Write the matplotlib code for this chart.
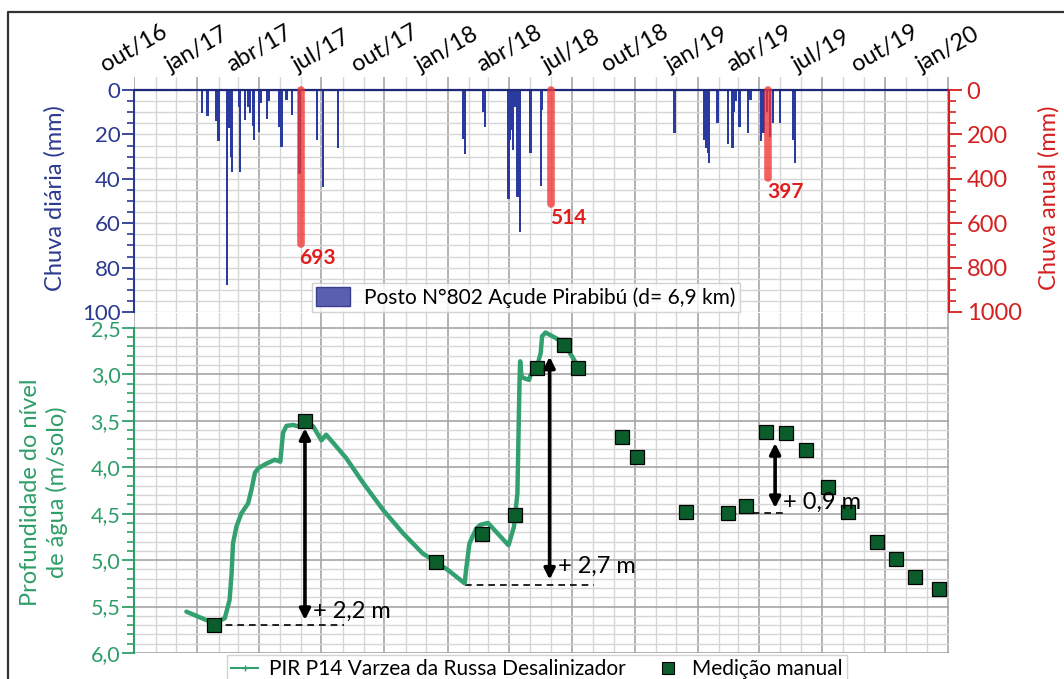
import matplotlib
matplotlib.use("Agg")
import matplotlib.pyplot as plt
import matplotlib.dates as mdates
from matplotlib.ticker import FixedLocator, FuncFormatter
from matplotlib.lines import Line2D
from matplotlib.patches import Patch
import numpy as np
import pandas as pd

plt.rcParams['font.family'] = ['Lato', 'DejaVu Sans']

# ---------------- data ----------------
rain_dates = ["2017-01-08", "2017-01-16", "2017-01-28", "2017-02-01", "2017-02-13", "2017-02-16",
              "2017-02-19", "2017-02-21", "2017-03-03", "2017-03-04", "2017-03-12", "2017-03-16",
              "2017-03-19", "2017-03-23", "2017-03-25", "2017-04-01", "2017-04-03", "2017-04-13",
              "2017-04-16", "2017-04-30", "2017-05-04", "2017-05-11", "2017-05-19", "2017-05-30",
              "2017-06-25", "2017-07-03", "2017-07-25",
              "2018-01-24", "2018-01-27", "2018-02-22", "2018-02-25", "2018-03-31", "2018-04-02",
              "2018-04-04", "2018-04-07", "2018-04-09", "2018-04-13", "2018-04-15", "2018-04-17",
              "2018-05-02", "2018-05-03", "2018-05-17", "2018-05-19",
              "2018-11-28", "2019-01-11", "2019-01-14", "2019-01-16", "2019-01-18", "2019-01-30",
              "2019-02-14", "2019-02-21", "2019-02-23", "2019-02-26", "2019-03-03", "2019-03-15",
              "2019-03-19", "2019-04-03", "2019-04-07", "2019-04-12", "2019-04-17", "2019-04-21",
              "2019-05-01", "2019-05-20", "2019-05-23"]
rain_mm = [10.5, 11.7, 14, 23, 88, 17, 30, 37, 7.5, 37, 13.5, 7.5,
           10.5, 16, 22.5, 19, 6, 13, 5, 16.5, 25.5, 4.5, 11, 38,
           22.5, 43.5, 26,
           22, 29, 10, 16.5, 49, 22.5,
           18, 27, 7.5, 48, 13.5, 64,
           28.5, 9, 43, 9,
           19.5, 22.5, 26, 28.5, 33, 14.7,
           24.3, 26, 10, 5, 16.5, 19.5,
           4.5, 23, 19.5, 10, 21, 15,
           15, 22.5, 33]

annual_dates = ["2017-06-01", "2018-06-01", "2019-04-14"]
annual_mm = [693, 514, 397]

level_dates = ["2016-12-16", "2017-01-14", "2017-01-26", "2017-02-10", "2017-02-17", "2017-02-20",
               "2017-02-22", "2017-02-27", "2017-03-06", "2017-03-16", "2017-03-21", "2017-03-26",
               "2017-03-31", "2017-04-12", "2017-04-24", "2017-05-02", "2017-05-06", "2017-05-11",
               "2017-05-21", "2017-05-28", "2017-06-07", "2017-06-19", "2017-07-01", "2017-07-08",
               "2017-08-06", "2017-08-31", "2017-09-29", "2017-10-28", "2017-11-26", "2017-12-15",
               "2018-01-04", "2018-01-26", "2018-01-28", "2018-02-02", "2018-02-12", "2018-02-18",
               "2018-03-01", "2018-03-31", "2018-04-08", "2018-04-13", "2018-04-15", "2018-04-16",
               "2018-04-17", "2018-04-19", "2018-04-22", "2018-04-30", "2018-05-02", "2018-05-11",
               "2018-05-17", "2018-05-19", "2018-05-24", "2018-06-03", "2018-06-13", "2018-06-20",
               "2018-07-02", "2018-07-09"]
level_m = [5.555, 5.645, 5.68, 5.626, 5.43, 5.14,
           4.82, 4.64, 4.50, 4.39, 4.24, 4.06,
           4.01, 3.96, 3.92, 3.94, 3.63, 3.555,
           3.545, 3.56, 3.52, 3.56, 3.71, 3.65,
           3.90, 4.17, 4.46, 4.71, 4.93, 5.016,
           5.12, 5.25, 5.11, 4.82, 4.66, 4.62,
           4.60, 4.84, 4.64, 4.28, 3.49, 3.10,
           2.86, 3.02, 3.04, 3.06, 3.01, 2.93,
           2.77, 2.59, 2.55, 2.59, 2.63, 2.67,
           2.81, 2.90]

manual_dates = ["2017-01-26", "2017-06-07", "2017-12-15", "2018-02-20", "2018-04-10", "2018-05-11",
                "2018-06-20", "2018-07-11", "2018-09-13", "2018-10-04", "2018-12-15", "2019-02-14",
                "2019-03-13", "2019-04-11", "2019-05-10", "2019-06-08", "2019-07-10", "2019-08-09",
                "2019-09-19", "2019-10-17", "2019-11-14", "2019-12-19"]
manual_m = [5.70, 3.50, 5.02, 4.72, 4.51, 2.93,
            2.68, 2.93, 3.67, 3.89, 4.48, 4.49,
            4.42, 3.62, 3.63, 3.82, 4.21, 4.48,
            4.81, 4.99, 5.18, 5.31]

gain_labels = ["+ 2,2 m", "+ 2,7 m", "+ 0,9 m"]
gain_dates = ["2017-06-07", "2018-05-30", "2019-04-24"]
gain_top = [3.58, 2.81, 3.74]
gain_bottom = [5.645, 5.21, 4.44]
gain_label_y = [5.555, 5.07, 4.38]
base_start = ["2017-01-26", "2018-01-26", "2019-03-05"]
base_end = ["2017-08-03", "2018-08-03", "2019-05-10"]
base_level = [5.70, 5.27, 4.49]

month_pt = {1: "jan", 4: "abr", 7: "jul", 10: "out"}

# ---------------- styles ----------------
BLUE = "#2b3990"
BAR_BLUE = "#2a3a9e"
RED = "#d42020"
GREEN = "#2e9e68"
LINE_GREEN = "#33a070"
DARK_GREEN = "#0b5d2c"
MAJ_GRID = "#a6a6a6"
MIN_GRID = "#d6d6d6"

W, H = 1064, 679
fig = plt.figure(figsize=(W / 100, H / 100), dpi=100)

def fx(px):
    return px / W

def fy(py):
    return 1 - py / H

left_px, right_px = 134.3, 948.5
ax_top = fig.add_axes([fx(left_px), fy(312), fx(right_px - left_px), (312 - 77) / H])
ax_bot = fig.add_axes([fx(left_px), fy(653), fx(right_px - left_px), (653 - 313) / H], sharex=ax_top)
ax_top.set_zorder(2)
ax_top.patch.set_alpha(0)

xmin = pd.Timestamp("2016-10-01")
xmax = pd.Timestamp("2020-01-01")
rd = pd.to_datetime(rain_dates)

# ---- top panel
ax_top.bar(rd, rain_mm, width=3.4, color=BAR_BLUE, zorder=3, linewidth=0)
ax_top.axhline(0, color="#1e2a78", lw=1.6, zorder=4)
ax_top.set_ylim(100, -5.9)
ax_top.set_xlim(xmin, xmax + pd.Timedelta(days=1))

ax_top.xaxis.set_major_locator(mdates.MonthLocator(bymonth=[1, 4, 7, 10]))
ax_top.xaxis.set_minor_locator(mdates.MonthLocator())
ax_top.xaxis.set_major_formatter(FuncFormatter(
    lambda v, p: "%s/%s" % (month_pt[mdates.num2date(v).month], mdates.num2date(v).strftime("%y"))))
ax_top.xaxis.tick_top()
ax_top.tick_params(axis="x", which="both", length=0, pad=1, labelsize=17, labelcolor="black")
for lab in ax_top.get_xticklabels():
    lab.set_rotation(30)
    lab.set_ha("center")
    lab.set_va("bottom")

ax_top.yaxis.set_major_locator(FixedLocator(np.arange(0, 101, 20)))
ax_top.yaxis.set_minor_locator(FixedLocator(np.arange(0, 101, 5)))
ax_top.tick_params(axis="y", which="major", length=9, width=1.3, color=BLUE, labelcolor=BLUE,
                   labelsize=16, pad=1)
ax_top.tick_params(axis="y", which="minor", length=5, width=1.2, color=BLUE)
for s in ["top", "bottom", "right"]:
    ax_top.spines[s].set_visible(False)
ax_top.spines["left"].set_color(BLUE)
ax_top.spines["left"].set_linewidth(1.5)
ax_top.spines["left"].set_bounds(0, 100)
ax_top.grid(axis="x", which="major", color=MAJ_GRID, lw=1.2, zorder=0)
ax_top.grid(axis="x", which="minor", color=MIN_GRID, lw=1.0, zorder=0)
ax_top.grid(axis="y", which="both", color=MIN_GRID, lw=1.0, zorder=0)
ax_top.set_axisbelow(True)

ax_r = ax_top.twinx()
ax_r.set_ylim(1000, -59)
ad = pd.to_datetime(annual_dates)
ax_r.vlines(ad, 0, annual_mm, colors="#f03535", lw=5.5, alpha=0.78, capstyle="round", zorder=5)
for d, v in zip(ad, annual_mm):
    ax_r.annotate(str(v), xy=(d, v), xytext=(-1, -3), textcoords="offset points",
                  ha="left", va="top", color="#e01e1e", fontsize=15, fontweight="bold")
ax_r.yaxis.set_major_locator(FixedLocator(np.arange(0, 1001, 200)))
ax_r.yaxis.set_minor_locator(FixedLocator(np.arange(0, 1001, 50)))
ax_r.tick_params(axis="y", which="major", length=9, width=1.3, color=RED, labelcolor=RED,
                 labelsize=17, pad=4)
ax_r.tick_params(axis="y", which="minor", length=5, width=1.2, color=RED)
for s in ["top", "bottom", "left"]:
    ax_r.spines[s].set_visible(False)
ax_r.spines["right"].set_color(RED)
ax_r.spines["right"].set_linewidth(1.5)
ax_r.spines["right"].set_bounds(0, 1000)
ax_r.tick_params(axis="x", which="both", length=0, labeltop=False, labelbottom=False)

# ---- bottom panel
ld = pd.to_datetime(level_dates)
md = pd.to_datetime(manual_dates)
ax_bot.plot(ld, level_m, color=LINE_GREEN, lw=3.2, zorder=3, solid_joinstyle="round",
            solid_capstyle="round")
ax_bot.plot(md, manual_m, ls="none", marker="s", markersize=10, markerfacecolor=DARK_GREEN,
            markeredgecolor="black", markeredgewidth=0.9, zorder=5)
ax_bot.set_ylim(6.0, 2.34)
ax_bot.yaxis.set_major_locator(FixedLocator(np.arange(2.5, 6.01, 0.5)))
ax_bot.yaxis.set_minor_locator(FixedLocator(np.round(np.arange(2.5, 6.01, 0.1), 2)))
ax_bot.yaxis.set_major_formatter(FuncFormatter(lambda v, p: ("%.1f" % v).replace(".", ",")))
ax_bot.tick_params(axis="y", which="major", length=9, width=1.3, color=GREEN, labelcolor=GREEN,
                   labelsize=15.5, pad=1)
ax_bot.tick_params(axis="y", which="minor", length=5, width=1.2, color=GREEN)
ax_bot.tick_params(axis="x", which="both", length=0, labelbottom=False, labeltop=False)
for s in ["top", "bottom", "right"]:
    ax_bot.spines[s].set_visible(False)
ax_bot.spines["left"].set_color(GREEN)
ax_bot.spines["left"].set_linewidth(1.5)
ax_bot.spines["left"].set_bounds(2.5, 6.0)
ax_bot.grid(axis="x", which="major", color=MAJ_GRID, lw=1.2, zorder=0)
ax_bot.grid(axis="x", which="minor", color=MIN_GRID, lw=1.0, zorder=0)
ax_bot.grid(axis="y", which="minor", color=MIN_GRID, lw=1.0, zorder=0)
ax_bot.grid(axis="y", which="major", color=MAJ_GRID, lw=1.2, zorder=0)
ax_bot.set_axisbelow(True)

for lab, d, t, b, ly, s0, s1, bl in zip(gain_labels, pd.to_datetime(gain_dates), gain_top,
                                        gain_bottom, gain_label_y, pd.to_datetime(base_start),
                                        pd.to_datetime(base_end), base_level):
    ax_bot.hlines(bl, s0, s1, colors="black", linestyles=(0, (4, 3)), lw=1.2, zorder=2)
    ax_bot.annotate("", xy=(d, t), xytext=(d, b),
                    arrowprops=dict(arrowstyle="<|-|>", color="black", lw=2.6,
                                    mutation_scale=16, shrinkA=0, shrinkB=0), zorder=6)
    ax_bot.annotate(lab, xy=(d, ly), xytext=(6, 0), textcoords="offset points",
                    ha="left", va="center", fontsize=17, color="black", zorder=6)

# ---- axis titles
fig.text(fx(55), fy(198), "Chuva diária (mm)", rotation=90, ha="center", va="center",
         color=BLUE, fontsize=17)
fig.text(fx(1049), fy(198), "Chuva anual (mm)", rotation=90, ha="center", va="center",
         color=RED, fontsize=17)
fig.text(fx(44), fy(492), "Profundidade do nível\nde água (m/solo)", rotation=90, ha="center",
         va="center", color=GREEN, fontsize=17, linespacing=1.25, multialignment="center")

# ---- legends
h1 = [Patch(facecolor="#5a5fae", edgecolor="#3b3f8f")]
leg1 = fig.legend(h1, ["Posto N°802 Açude Pirabibú (d= 6,9 km)"], loc="lower left",
                  bbox_to_anchor=(fx(312), fy(312)), fontsize=15, frameon=True, fancybox=False,
                  edgecolor="#c8c8c8", borderpad=0.2, handlelength=1.6, handleheight=1.0,
                  handletextpad=0.7, borderaxespad=0)
leg1.get_frame().set_linewidth(1.0)
leg1.set_zorder(10)

h2 = [Line2D([], [], color=LINE_GREEN, lw=1.5, marker="+", markersize=5),
      Line2D([], [], ls="none", marker="s", markersize=8, markerfacecolor=DARK_GREEN,
             markeredgecolor="black", markeredgewidth=0.8)]
leg2 = fig.legend(h2, ["PIR P14 Varzea da Russa Desalinizador", "Medição manual"], loc="upper left",
                  bbox_to_anchor=(fx(227), fy(655)), ncol=2, fontsize=15, frameon=True,
                  fancybox=False, edgecolor="#c8c8c8", borderpad=0.2, handlelength=1.3,
                  handletextpad=0.5, columnspacing=1.4, borderaxespad=0)
leg2.get_frame().set_linewidth(1.0)
leg2.set_zorder(10)

# ---- outer frame
fig.add_artist(Line2D([fx(8), fx(8), 1.0], [0.0, fy(12), fy(12)], transform=fig.transFigure,
                      color="#333333", lw=1.6))

fig.savefig("out.png", dpi=100)
